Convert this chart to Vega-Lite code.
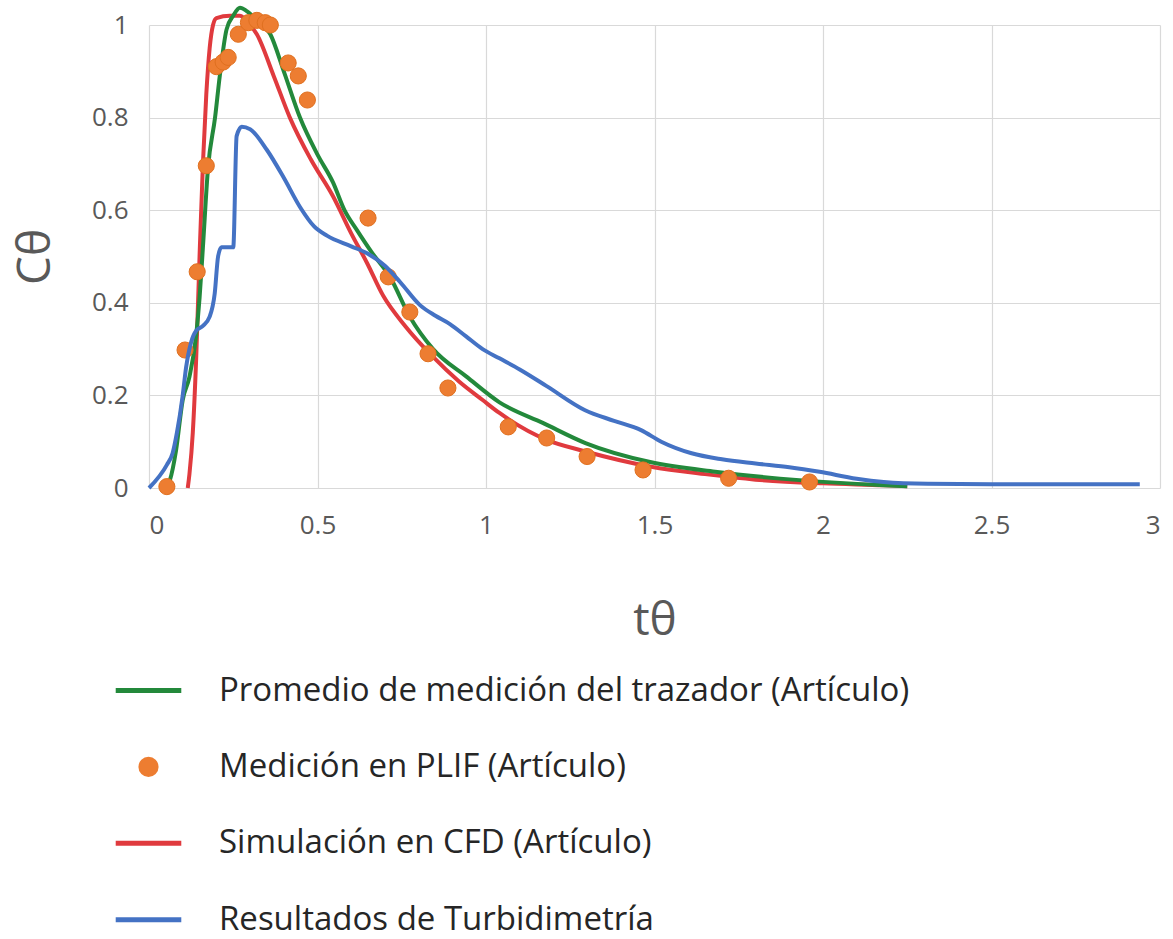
{
  "$schema": "https://vega.github.io/schema/vega-lite/v6.json",
  "autosize": "none",
  "width": 1011,
  "height": 463,
  "padding": {"left": 149, "top": 25, "right": 13, "bottom": 451},
  "background": "white",
  "config": {
    "view": {"stroke": null},
    "font": "Open Sans",
    "axis": {"gridColor": "#D9D9D9", "gridWidth": 1.2, "domain": false, "ticks": false, "labelColor": "#595959", "labelFont": "Open Sans", "labelFontSize": 26, "titleFont": "Open Sans", "titleFontWeight": "normal", "titleColor": "#595959"}
  },
  "datasets": {
    "lines": [
      {"serie": "Simulación en CFD (Artículo)", "t": 0.115, "c": 0},
      {"serie": "Simulación en CFD (Artículo)", "t": 0.12, "c": 0.03},
      {"serie": "Simulación en CFD (Artículo)", "t": 0.13, "c": 0.12},
      {"serie": "Simulación en CFD (Artículo)", "t": 0.14, "c": 0.28},
      {"serie": "Simulación en CFD (Artículo)", "t": 0.15, "c": 0.5},
      {"serie": "Simulación en CFD (Artículo)", "t": 0.16, "c": 0.7},
      {"serie": "Simulación en CFD (Artículo)", "t": 0.17, "c": 0.85},
      {"serie": "Simulación en CFD (Artículo)", "t": 0.18, "c": 0.95},
      {"serie": "Simulación en CFD (Artículo)", "t": 0.19, "c": 1.0},
      {"serie": "Simulación en CFD (Artículo)", "t": 0.2, "c": 1.015},
      {"serie": "Simulación en CFD (Artículo)", "t": 0.24, "c": 1.02},
      {"serie": "Simulación en CFD (Artículo)", "t": 0.27, "c": 1.02},
      {"serie": "Simulación en CFD (Artículo)", "t": 0.3, "c": 1.0},
      {"serie": "Simulación en CFD (Artículo)", "t": 0.32, "c": 0.98},
      {"serie": "Simulación en CFD (Artículo)", "t": 0.37, "c": 0.89},
      {"serie": "Simulación en CFD (Artículo)", "t": 0.418, "c": 0.8},
      {"serie": "Simulación en CFD (Artículo)", "t": 0.48, "c": 0.71},
      {"serie": "Simulación en CFD (Artículo)", "t": 0.546, "c": 0.63},
      {"serie": "Simulación en CFD (Artículo)", "t": 0.6, "c": 0.55},
      {"serie": "Simulación en CFD (Artículo)", "t": 0.647, "c": 0.486},
      {"serie": "Simulación en CFD (Artículo)", "t": 0.695, "c": 0.415},
      {"serie": "Simulación en CFD (Artículo)", "t": 0.76, "c": 0.35},
      {"serie": "Simulación en CFD (Artículo)", "t": 0.843, "c": 0.283},
      {"serie": "Simulación en CFD (Artículo)", "t": 0.92, "c": 0.23},
      {"serie": "Simulación en CFD (Artículo)", "t": 0.99, "c": 0.19},
      {"serie": "Simulación en CFD (Artículo)", "t": 1.04, "c": 0.162},
      {"serie": "Simulación en CFD (Artículo)", "t": 1.18, "c": 0.104},
      {"serie": "Simulación en CFD (Artículo)", "t": 1.29, "c": 0.08},
      {"serie": "Simulación en CFD (Artículo)", "t": 1.49, "c": 0.046},
      {"serie": "Simulación en CFD (Artículo)", "t": 1.65, "c": 0.03},
      {"serie": "Simulación en CFD (Artículo)", "t": 1.8, "c": 0.018},
      {"serie": "Simulación en CFD (Artículo)", "t": 2.0, "c": 0.01},
      {"serie": "Simulación en CFD (Artículo)", "t": 2.18, "c": 0.006},
      {"serie": "Simulación en CFD (Artículo)", "t": 2.25, "c": 0.004},
      {"serie": "Promedio de medición del trazador (Artículo)", "t": 0.05, "c": 0},
      {"serie": "Promedio de medición del trazador (Artículo)", "t": 0.062, "c": 0.017},
      {"serie": "Promedio de medición del trazador (Artículo)", "t": 0.08, "c": 0.08},
      {"serie": "Promedio de medición del trazador (Artículo)", "t": 0.1, "c": 0.19},
      {"serie": "Promedio de medición del trazador (Artículo)", "t": 0.12, "c": 0.24},
      {"serie": "Promedio de medición del trazador (Artículo)", "t": 0.14, "c": 0.33},
      {"serie": "Promedio de medición del trazador (Artículo)", "t": 0.15, "c": 0.41},
      {"serie": "Promedio de medición del trazador (Artículo)", "t": 0.16, "c": 0.52},
      {"serie": "Promedio de medición del trazador (Artículo)", "t": 0.175, "c": 0.69},
      {"serie": "Promedio de medición del trazador (Artículo)", "t": 0.196, "c": 0.8},
      {"serie": "Promedio de medición del trazador (Artículo)", "t": 0.21, "c": 0.89},
      {"serie": "Promedio de medición del trazador (Artículo)", "t": 0.23, "c": 0.99},
      {"serie": "Promedio de medición del trazador (Artículo)", "t": 0.25, "c": 1.02},
      {"serie": "Promedio de medición del trazador (Artículo)", "t": 0.27, "c": 1.037},
      {"serie": "Promedio de medición del trazador (Artículo)", "t": 0.29, "c": 1.03},
      {"serie": "Promedio de medición del trazador (Artículo)", "t": 0.32, "c": 1.01},
      {"serie": "Promedio de medición del trazador (Artículo)", "t": 0.36, "c": 0.98},
      {"serie": "Promedio de medición del trazador (Artículo)", "t": 0.4, "c": 0.9},
      {"serie": "Promedio de medición del trazador (Artículo)", "t": 0.448, "c": 0.8},
      {"serie": "Promedio de medición del trazador (Artículo)", "t": 0.5, "c": 0.72},
      {"serie": "Promedio de medición del trazador (Artículo)", "t": 0.546, "c": 0.66},
      {"serie": "Promedio de medición del trazador (Artículo)", "t": 0.58, "c": 0.6},
      {"serie": "Promedio de medición del trazador (Artículo)", "t": 0.617, "c": 0.557},
      {"serie": "Promedio de medición del trazador (Artículo)", "t": 0.66, "c": 0.51},
      {"serie": "Promedio de medición del trazador (Artículo)", "t": 0.715, "c": 0.456},
      {"serie": "Promedio de medición del trazador (Artículo)", "t": 0.774, "c": 0.37},
      {"serie": "Promedio de medición del trazador (Artículo)", "t": 0.843, "c": 0.3},
      {"serie": "Promedio de medición del trazador (Artículo)", "t": 0.943, "c": 0.24},
      {"serie": "Promedio de medición del trazador (Artículo)", "t": 1.04, "c": 0.185},
      {"serie": "Promedio de medición del trazador (Artículo)", "t": 1.17, "c": 0.14},
      {"serie": "Promedio de medición del trazador (Artículo)", "t": 1.295, "c": 0.097},
      {"serie": "Promedio de medición del trazador (Artículo)", "t": 1.487, "c": 0.056},
      {"serie": "Promedio de medición del trazador (Artículo)", "t": 1.68, "c": 0.035},
      {"serie": "Promedio de medición del trazador (Artículo)", "t": 1.93, "c": 0.017},
      {"serie": "Promedio de medición del trazador (Artículo)", "t": 2.18, "c": 0.006},
      {"serie": "Promedio de medición del trazador (Artículo)", "t": 2.25, "c": 0.004},
      {"serie": "Resultados de Turbidimetría", "t": 0, "c": 0},
      {"serie": "Resultados de Turbidimetría", "t": 0.053, "c": 0.05},
      {"serie": "Resultados de Turbidimetría", "t": 0.07, "c": 0.075},
      {"serie": "Resultados de Turbidimetría", "t": 0.083, "c": 0.12},
      {"serie": "Resultados de Turbidimetría", "t": 0.1, "c": 0.2},
      {"serie": "Resultados de Turbidimetría", "t": 0.11, "c": 0.26},
      {"serie": "Resultados de Turbidimetría", "t": 0.125, "c": 0.315},
      {"serie": "Resultados de Turbidimetría", "t": 0.14, "c": 0.34},
      {"serie": "Resultados de Turbidimetría", "t": 0.16, "c": 0.35},
      {"serie": "Resultados de Turbidimetría", "t": 0.18, "c": 0.37},
      {"serie": "Resultados de Turbidimetría", "t": 0.195, "c": 0.42},
      {"serie": "Resultados de Turbidimetría", "t": 0.205, "c": 0.5},
      {"serie": "Resultados de Turbidimetría", "t": 0.215, "c": 0.52},
      {"serie": "Resultados de Turbidimetría", "t": 0.25, "c": 0.52},
      {"serie": "Resultados de Turbidimetría", "t": 0.26, "c": 0.76},
      {"serie": "Resultados de Turbidimetría", "t": 0.275, "c": 0.78},
      {"serie": "Resultados de Turbidimetría", "t": 0.3, "c": 0.775},
      {"serie": "Resultados de Turbidimetría", "t": 0.35, "c": 0.73},
      {"serie": "Resultados de Turbidimetría", "t": 0.4, "c": 0.67},
      {"serie": "Resultados de Turbidimetría", "t": 0.448, "c": 0.607},
      {"serie": "Resultados de Turbidimetría", "t": 0.49, "c": 0.565},
      {"serie": "Resultados de Turbidimetría", "t": 0.528, "c": 0.545},
      {"serie": "Resultados de Turbidimetría", "t": 0.6, "c": 0.522},
      {"serie": "Resultados de Turbidimetría", "t": 0.647, "c": 0.507},
      {"serie": "Resultados de Turbidimetría", "t": 0.7, "c": 0.48},
      {"serie": "Resultados de Turbidimetría", "t": 0.745, "c": 0.445},
      {"serie": "Resultados de Turbidimetría", "t": 0.804, "c": 0.395},
      {"serie": "Resultados de Turbidimetría", "t": 0.85, "c": 0.372},
      {"serie": "Resultados de Turbidimetría", "t": 0.893, "c": 0.354},
      {"serie": "Resultados de Turbidimetría", "t": 0.94, "c": 0.328},
      {"serie": "Resultados de Turbidimetría", "t": 0.99, "c": 0.3},
      {"serie": "Resultados de Turbidimetría", "t": 1.04, "c": 0.28},
      {"serie": "Resultados de Turbidimetría", "t": 1.1, "c": 0.256},
      {"serie": "Resultados de Turbidimetría", "t": 1.18, "c": 0.22},
      {"serie": "Resultados de Turbidimetría", "t": 1.294, "c": 0.168},
      {"serie": "Resultados de Turbidimetría", "t": 1.38, "c": 0.145},
      {"serie": "Resultados de Turbidimetría", "t": 1.46, "c": 0.125},
      {"serie": "Resultados de Turbidimetría", "t": 1.52, "c": 0.1},
      {"serie": "Resultados de Turbidimetría", "t": 1.61, "c": 0.075},
      {"serie": "Resultados de Turbidimetría", "t": 1.7, "c": 0.062},
      {"serie": "Resultados de Turbidimetría", "t": 1.8, "c": 0.053},
      {"serie": "Resultados de Turbidimetría", "t": 1.9, "c": 0.045},
      {"serie": "Resultados de Turbidimetría", "t": 1.99, "c": 0.035},
      {"serie": "Resultados de Turbidimetría", "t": 2.1, "c": 0.02},
      {"serie": "Resultados de Turbidimetría", "t": 2.18, "c": 0.013},
      {"serie": "Resultados de Turbidimetría", "t": 2.31, "c": 0.009},
      {"serie": "Resultados de Turbidimetría", "t": 2.5, "c": 0.008},
      {"serie": "Resultados de Turbidimetría", "t": 2.94, "c": 0.008}
    ],
    "plif": [
      {"t": 0.053, "c": 0.003},
      {"t": 0.107, "c": 0.298},
      {"t": 0.143, "c": 0.467},
      {"t": 0.17, "c": 0.696},
      {"t": 0.2, "c": 0.91},
      {"t": 0.22, "c": 0.92},
      {"t": 0.235, "c": 0.93},
      {"t": 0.265, "c": 0.98},
      {"t": 0.295, "c": 1.005},
      {"t": 0.32, "c": 1.01},
      {"t": 0.345, "c": 1.005},
      {"t": 0.36, "c": 1.0},
      {"t": 0.413, "c": 0.918},
      {"t": 0.443, "c": 0.89},
      {"t": 0.47, "c": 0.838},
      {"t": 0.65, "c": 0.583},
      {"t": 0.71, "c": 0.456},
      {"t": 0.774, "c": 0.38},
      {"t": 0.828, "c": 0.29},
      {"t": 0.887, "c": 0.216},
      {"t": 1.066, "c": 0.132},
      {"t": 1.18, "c": 0.108},
      {"t": 1.3, "c": 0.068},
      {"t": 1.466, "c": 0.039},
      {"t": 1.72, "c": 0.021},
      {"t": 1.96, "c": 0.013}
    ]
  },
  "layer": [
    {
      "data": {"name": "lines"},
      "transform": [{"filter": "datum.serie !== 'Resultados de Turbidimetría'"}],
      "mark": {"type": "line", "strokeWidth": 4, "clip": false, "interpolate": "monotone"},
      "encoding": {
        "x": {"field": "t", "type": "quantitative", "scale": {"domain": [0, 3], "nice": false},
          "axis": {"values": [0, 0.5, 1, 1.5, 2, 2.5, 3], "format": "~g", "labelPadding": 24, "title": "tθ", "titleFontSize": 46, "titlePadding": 60}},
        "y": {"field": "c", "type": "quantitative", "scale": {"domain": [0, 1], "nice": false},
          "axis": {"values": [0, 0.2, 0.4, 0.6, 0.8, 1], "format": "~g", "labelPadding": 21, "title": "Cθ", "titleFontSize": 46, "titlePadding": 32}},
        "color": {
          "field": "serie", "type": "nominal",
          "scale": {
            "domain": ["Promedio de medición del trazador (Artículo)", "Medición en PLIF (Artículo)", "Simulación en CFD (Artículo)", "Resultados de Turbidimetría"],
            "range": ["#23893B", "#ED7D31", "#E03A3E", "#4472C4"]
          },
          "legend": {
            "orient": "none",
            "legendX": -17,
            "legendY": 649,
            "direction": "vertical",
            "title": null,
            "symbolType": "stroke",
            "symbolSize": 4300,
            "symbolStrokeWidth": 5,
            "labelFont": "Open Sans",
            "labelFontSize": 33,
            "labelColor": "#262626",
            "labelOffset": 54,
            "labelLimit": 1000,
            "rowPadding": 42.4,
            "encode": {
              "symbols": {
                "update": {
                  "shape": {"signal": "datum.value === 'Medición en PLIF (Artículo)' ? 'circle' : 'stroke'"},
                  "size": {"signal": "datum.value === 'Medición en PLIF (Artículo)' ? 330 : 4300"},
                  "fill": {"signal": "datum.value === 'Medición en PLIF (Artículo)' ? '#ED7D31' : 'transparent'"},
                  "stroke": {"signal": "datum.value === 'Medición en PLIF (Artículo)' ? '#C8641E' : scale('color', datum.value)"},
                  "strokeWidth": {"signal": "datum.value === 'Medición en PLIF (Artículo)' ? 2 : 5"},
                  "opacity": {"value": 1}
                }
              }
            }
          }
        },
        "order": {"field": "t", "type": "quantitative"}
      }
    },
    {
      "data": {"name": "plif"},
      "mark": {"type": "point", "filled": true, "size": 260, "opacity": 1, "clip": false, "color": "#ED7D31", "stroke": "#E07020", "strokeWidth": 1},
      "encoding": {
        "x": {"field": "t", "type": "quantitative"},
        "y": {"field": "c", "type": "quantitative"}
      }
    },
    {
      "data": {"name": "lines"},
      "transform": [{"filter": "datum.serie === 'Resultados de Turbidimetría'"}],
      "mark": {"type": "line", "strokeWidth": 4, "clip": false, "color": "#4472C4", "interpolate": "monotone"},
      "encoding": {
        "x": {"field": "t", "type": "quantitative"},
        "y": {"field": "c", "type": "quantitative"},
        "order": {"field": "t", "type": "quantitative"}
      }
    }
  ]
}
